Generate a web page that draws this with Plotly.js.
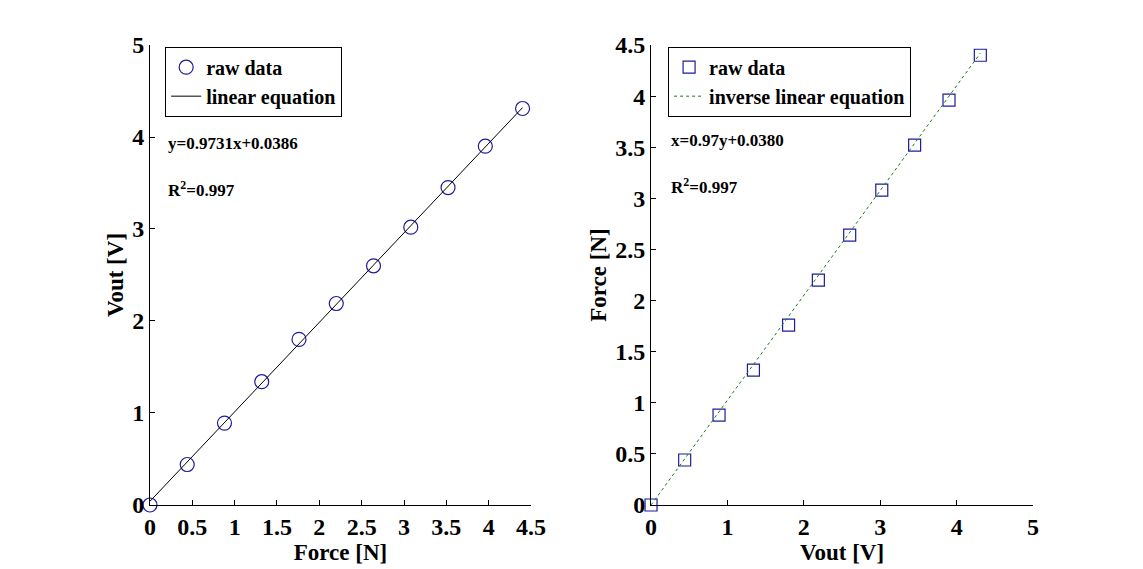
<!DOCTYPE html>
<html><head><meta charset="utf-8">
<script src="https://cdn.plot.ly/plotly-3.0.1.min.js"></script>
<style>body{margin:0;padding:0;background:#fff}#chart{width:1143px;height:569px}</style>
</head><body><div id="chart"></div>
<script>
// Raw data
const forceN = [0, 0.44, 0.88, 1.32, 1.76, 2.20, 2.64, 3.08, 3.52, 3.96, 4.40];
const voutV  = [0, 0.44, 0.89, 1.34, 1.80, 2.19, 2.60, 3.02, 3.45, 3.90, 4.31];
// Fit line endpoints
const fitForce = [0, 4.40];
const fitVout  = [0.04, 4.32];
const invVout  = [0, 4.31];
const invForce = [0, 4.42];

const leftXTicks = [0, 0.5, 1, 1.5, 2, 2.5, 3, 3.5, 4, 4.5];
const leftYTicks = [0, 1, 2, 3, 4, 5];
const rightXTicks = [0, 1, 2, 3, 4, 5];
const rightYTicks = [0, 0.5, 1, 1.5, 2, 2.5, 3, 3.5, 4, 4.5];

const FONT = 'Liberation Serif, Times New Roman, serif';
const navy = '#1c1c9c';

const traces = [
  {x: forceN, y: voutV, type:'scatter', mode:'markers', name:'raw data',
   marker:{symbol:'circle-open', size:14, color:navy, line:{width:1.2}},
   cliponaxis:false, xaxis:'x', yaxis:'y', legend:'legend'},
  {x: fitForce, y: fitVout, type:'scatter', mode:'lines', name:'linear equation',
   line:{color:'#000', width:1}, xaxis:'x', yaxis:'y', legend:'legend'},
  {x: voutV, y: forceN, type:'scatter', mode:'markers', name:'raw data',
   marker:{symbol:'square-open', size:12, color:navy, line:{width:1.2}},
   cliponaxis:false, xaxis:'x2', yaxis:'y2', legend:'legend2'},
  {x: invVout, y: invForce, type:'scatter', mode:'lines', name:'inverse linear equation',
   line:{color:'#1a7a1a', width:1, dash:'dot'}, xaxis:'x2', yaxis:'y2', legend:'legend2'}
];

function ax(extra){
  return Object.assign({
    showgrid:false, zeroline:false, showline:true, linecolor:'#000', linewidth:1,
    ticks:'inside', ticklen:5, tickcolor:'#000', mirror:false,
    tickfont:{family:FONT, size:24, color:'#000', weight:'bold'},
    tickmode:'array'
  }, extra);
}
const titleFont = {family:FONT, size:23, color:'#000', weight:'bold'};
const annFont = {family:FONT, size:17, color:'#000', weight:'bold'};

const layout = {
  width:1143, height:569,
  margin:{l:0, r:0, t:0, b:0},
  paper_bgcolor:'#fff', plot_bgcolor:'#fff',
  showlegend:true,
  xaxis: ax({domain:[0.1312, 0.4646], range:[0,4.5], tickvals:leftXTicks, ticktext:leftXTicks.map(String), anchor:'y',
    title:{text:'Force [N]', font:titleFont, standoff:0}}),
  yaxis: ax({domain:[0.1125, 0.9209], range:[0,5], tickvals:leftYTicks, ticktext:leftYTicks.map(String), anchor:'x',
    title:{text:'Vout [V]', font:titleFont, standoff:2}}),
  xaxis2: ax({domain:[0.5696, 0.9038], range:[0,5], tickvals:rightXTicks, ticktext:rightXTicks.map(String), anchor:'y2',
    title:{text:'Vout [V]', font:titleFont, standoff:0}}),
  yaxis2: ax({domain:[0.1125, 0.9209], range:[0,4.5], tickvals:rightYTicks, ticktext:rightYTicks.map(String), anchor:'x2',
    title:{text:'Force [N]', font:titleFont, standoff:2}}),
  legend:{x:0.1445, y:0.918, xanchor:'left', yanchor:'top', bgcolor:'#fff', bordercolor:'#000', borderwidth:1,
    font:{family:FONT, size:20, color:'#000', weight:'bold'}, tracegroupgap:0, itemwidth:30},
  legend2:{x:0.5845, y:0.918, xanchor:'left', yanchor:'top', bgcolor:'#fff', bordercolor:'#000', borderwidth:1,
    font:{family:FONT, size:20, color:'#000', weight:'bold'}, tracegroupgap:0, itemwidth:30},
  annotations:[
    {xref:'paper', yref:'paper', x:166/1143, y:1-143/569, xanchor:'left', yanchor:'middle', showarrow:false,
     text:'y=0.9731x+0.0386', font:annFont},
    {xref:'paper', yref:'paper', x:166/1143, y:1-189/569, xanchor:'left', yanchor:'middle', showarrow:false,
     text:'R<sup>2</sup>=0.997', font:annFont},
    {xref:'paper', yref:'paper', x:669/1143, y:1-140/569, xanchor:'left', yanchor:'middle', showarrow:false,
     text:'x=0.97y+0.0380', font:annFont},
    {xref:'paper', yref:'paper', x:669/1143, y:1-186/569, xanchor:'left', yanchor:'middle', showarrow:false,
     text:'R<sup>2</sup>=0.997', font:annFont}
  ]
};
Plotly.newPlot('chart', traces, layout, {displayModeBar:false, staticPlot:true});
</script></body></html>
